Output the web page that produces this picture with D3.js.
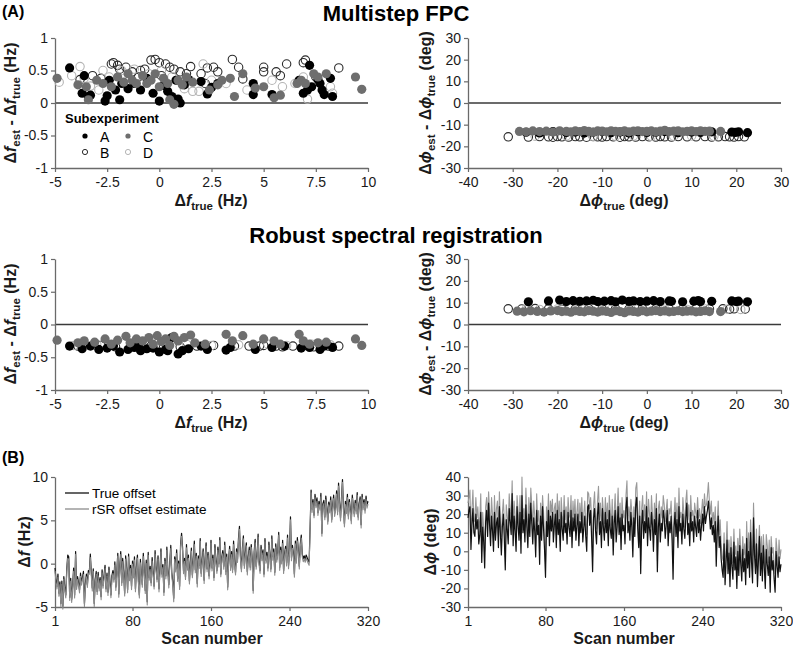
<!DOCTYPE html>
<html><head><meta charset="utf-8">
<script src="https://cdn.jsdelivr.net/npm/d3@7"></script>
<style>body{margin:0;background:#fff}svg{display:block;font-family:"Liberation Sans",Arial,Helvetica,sans-serif}</style>
</head><body><svg id="c" width="793" height="647"></svg>
<script>
// ---------- DATA ----------
const groups = ["A","B","C","D"];
const freqTicks = [-5,-2.5,0,2.5,5,7.5,10];
const errFreqTicks = [-1,-0.5,0,0.5,1];
const phaseTicks = [-40,-30,-20,-10,0,10,20,30];
const errPhaseTicks = [-30,-20,-10,0,10,20,30];
const scanTicks = [1,80,160,240,320];
const dfTicks = [-5,0,5,10];
const dphiTicks = [-30,-20,-10,0,10,20,30,40];

// Multistep FPC, frequency error [true, est-true]
const fpcFreqA = [[-4.3,0.54],[-3.6,0.42],[-3.7,0.15],[-3.4,0.1],[-3.3,0.12],[-2.6,0.03],[-2.5,0.11],[-2.4,0.35],[-2.1,0.2],[-1.9,0.05],[-1.8,0.3],[-1.5,0.22],[-1.2,0.3],[-0.9,0.2],[-0.6,0.38],[-0.3,0.15],[0.0,0.03],[0.2,0.27],[0.4,0.18],[0.6,0.1],[0.8,0.35],[0.9,0.06],[1.0,0.0],[1.2,0.28],[1.4,0.36],[2.0,0.33],[2.3,0.14],[2.5,0.24],[2.8,0.3],[4.5,0.3],[4.5,0.13],[5.4,0.13],[6.7,0.35],[6.9,0.15],[7.1,0.2],[7.2,0.58],[7.3,0.25],[7.6,0.36],[7.7,0.3],[7.8,0.2],[7.9,0.13],[8.2,0.38],[8.3,0.1]];
const fpcFreqB = [[-3.8,0.36],[-3.2,0.42],[-2.8,0.38],[-2.3,0.6],[-2.2,0.62],[-2.0,0.58],[-1.9,0.52],[-1.6,0.55],[-1.3,0.48],[-0.9,0.5],[-0.7,0.52],[-0.4,0.66],[-0.2,0.67],[0.0,0.62],[0.3,0.6],[0.5,0.55],[0.7,0.52],[1.0,0.48],[1.3,0.45],[1.5,0.56],[2.0,0.45],[2.3,0.54],[2.6,0.55],[2.8,0.48],[3.5,0.67],[3.8,0.55],[4.0,0.37],[5.0,0.55],[5.0,0.48],[5.6,0.48],[5.8,0.42],[6.1,0.6],[6.9,0.62],[7.0,0.66],[7.5,0.4],[8.6,0.54],[2.2,0.3],[0.1,0.42],[-1.0,0.4]];
const fpcFreqC = [[-4.9,0.38],[-3.9,0.28],[-3.5,0.25],[-3.4,0.05],[-3.0,0.35],[-2.7,0.3],[-2.3,0.25],[-2.0,0.4],[-1.7,0.32],[-1.5,0.45],[-1.3,0.35],[-1.1,0.3],[-0.8,0.42],[-0.6,0.3],[-0.4,0.35],[-0.2,0.45],[0.0,0.25],[0.2,0.38],[0.4,0.3],[0.5,0.05],[0.7,-0.02],[0.9,0.35],[1.1,0.28],[1.3,0.4],[1.6,0.32],[2.4,0.2],[2.8,0.28],[3.0,0.35],[3.4,0.38],[3.6,0.1],[4.0,0.45],[4.6,0.23],[5.0,0.25],[5.5,0.08],[5.8,0.12],[6.6,0.3],[6.8,0.35],[7.0,0.3],[7.4,0.45],[7.6,0.4],[8.0,0.45],[9.4,0.4],[9.7,0.21]];
const fpcFreqD = [[-4.8,0.32],[-4.2,0.42],[-3.8,0.56],[-3.6,0.38],[-3.3,0.26],[-2.9,0.2],[-2.4,0.4],[-1.8,0.5],[-1.2,0.52],[-0.5,0.45],[0.1,0.5],[0.6,0.4],[1.2,0.22],[1.9,0.18],[2.1,0.6],[2.5,0.35],[3.2,0.3],[4.2,0.2],[5.4,0.35],[5.9,0.25],[6.5,0.3],[6.9,0.4],[7.1,0.06],[8.2,0.25],[8.3,0.15],[-2.7,0.5],[-0.9,0.3],[1.6,0.18]];

// Multistep FPC, phase error
const fpcPhaseA = [[-27,-13.5],[-24,-13.8],[-21,-13.2],[-18,-13.6],[-16,-13.4],[-14,-13.9],[-12,-13.5],[-10,-13.2],[-8,-13.7],[-6,-13.4],[-4,-13.8],[-2,-13.3],[0,-13.6],[2,-13.5],[4,-13.2],[7,-13.7],[10,-13.4],[12,-13.6],[14.5,-13.3],[19,-13.4],[19.8,-13.6],[20.5,-13.3],[22.5,-13.7]];
const fpcPhaseB = [[-31,-15.6],[-26.5,-15.7],[-24,-15.5],[-22,-15.6],[-21,-15.8],[-20,-15.5],[-19,-15.6],[-17.5,-15.7],[-16,-15.5],[-15,-15.6],[-13.5,-15.8],[-12,-15.5],[-11,-15.6],[-10,-15.7],[-9,-15.5],[-7.5,-15.6],[-6,-15.8],[-5,-15.5],[-4,-15.6],[-2.5,-15.7],[-1,-15.5],[0.5,-15.6],[2,-15.7],[3,-15.5],[4,-15.6],[5.5,-15.7],[7,-15.5],[9,-15.6],[11,-15.6],[13,-15.5],[14.5,-15.7],[16,-15.6],[17.5,-15.5],[18.5,-15.6],[19.5,-15.7],[20.5,-15.5],[21.8,-15.6]];
const fpcPhaseC = [[-28.5,-13.1],[-27,-13.3],[-25.5,-12.9],[-24,-13.2],[-22.5,-13.0],[-21,-13.4],[-19.5,-12.8],[-18,-13.1],[-17,-13.3],[-16,-12.9],[-15,-13.2],[-14,-12.7],[-13,-13.1],[-12,-13.4],[-11,-12.9],[-10,-13.0],[-9,-13.3],[-8,-12.8],[-7,-13.1],[-6,-13.2],[-5,-12.9],[-4,-13.3],[-3,-13.0],[-2,-12.8],[-1,-13.2],[0,-13.1],[1,-12.9],[2,-13.3],[3,-13.0],[4,-12.6],[5,-13.2],[6,-13.0],[7,-12.9],[8,-13.3],[9,-13.1],[10,-12.9],[11,-13.2],[12,-12.8],[13,-13.1],[14,-13.0],[16.5,-13.1]];
const fpcPhaseD = [[-25,-15.3],[-18,-15.2],[-12,-15.4],[-7,-15.3],[-3,-15.2],[1,-15.4],[6,-15.3],[10,-15.2],[15,-15.4]];

// Robust spectral registration, frequency error
const rsrFreqA = [[-4.3,-0.33],[-3.7,-0.37],[-3.3,-0.33],[-2.9,-0.38],[-2.5,-0.36],[-2.2,-0.33],[-1.9,-0.42],[-1.5,-0.38],[-1.2,-0.35],[-0.9,-0.4],[-0.6,-0.37],[-0.3,-0.36],[0.0,-0.42],[0.3,-0.38],[0.6,-0.2],[0.9,-0.45],[1.1,-0.4],[1.4,-0.37],[2.0,-0.33],[2.3,-0.38],[3.2,-0.39],[3.4,-0.35],[4.6,-0.38],[5.4,-0.35],[6.0,-0.33],[6.8,-0.36],[7.2,-0.35],[7.7,-0.38],[7.9,-0.33],[8.3,-0.35],[-1.0,-0.33],[0.4,-0.4]];
const rsrFreqB = [[-3.9,-0.33],[-2.8,-0.32],[-2.1,-0.34],[-1.3,-0.33],[-0.4,-0.33],[0.2,-0.32],[1.0,-0.34],[1.8,-0.33],[2.6,-0.32],[3.6,-0.33],[4.3,-0.33],[5.0,-0.32],[5.6,-0.33],[5.9,-0.34],[6.4,-0.33],[7.0,-0.32],[7.4,-0.34],[8.1,-0.33],[8.6,-0.33],[4.8,-0.33]];
const rsrFreqC = [[-4.9,-0.24],[-3.9,-0.28],[-3.6,-0.25],[-3.1,-0.27],[-2.6,-0.22],[-2.3,-0.3],[-2.0,-0.24],[-1.6,-0.18],[-1.4,-0.28],[-1.1,-0.22],[-0.8,-0.25],[-0.5,-0.2],[-0.3,-0.3],[-0.1,-0.17],[0.1,-0.26],[0.3,-0.22],[0.5,-0.32],[0.7,-0.18],[0.9,-0.25],[1.2,-0.2],[1.5,-0.16],[1.7,-0.28],[2.2,-0.3],[3.2,-0.15],[3.5,-0.25],[4.0,-0.17],[4.5,-0.3],[5.0,-0.22],[5.5,-0.25],[5.8,-0.3],[6.7,-0.15],[6.9,-0.25],[7.2,-0.3],[7.6,-0.28],[8.0,-0.27],[9.4,-0.22],[9.7,-0.32]];
const rsrFreqD = [[-4.1,-0.32],[-3.0,-0.3],[-2.2,-0.31],[-1.0,-0.3],[0.1,-0.31],[1.3,-0.3],[2.5,-0.32],[3.8,-0.31],[5.2,-0.3],[6.1,-0.32],[7.3,-0.3],[8.2,-0.31]];

// Robust spectral registration, phase error
const rsrPhaseA = [[-26.5,10.4],[-22,10.8],[-19.5,11.2],[-18,10.5],[-16.5,10.9],[-15,10.6],[-13.5,10.8],[-12,11.1],[-11,10.5],[-9.5,10.7],[-8,10.9],[-7,10.4],[-5.5,11.2],[-4,10.6],[-3,10.8],[-1.5,10.5],[0,10.7],[1.5,10.9],[3,10.5],[5,10.8],[5.5,10.6],[8,10.4],[10.5,10.7],[11.5,11.0],[12,10.5],[14.5,10.6],[19,10.8],[20,10.5],[20.5,10.7],[22.5,10.4]];
const rsrPhaseB = [[-31,7.2],[-28,7.1],[-25,7.3],[-22,7.2],[-19,7.0],[-16,7.2],[-13,7.3],[-10,7.1],[-7,7.2],[-4,7.0],[-1,7.3],[2,7.2],[5,7.1],[8,7.2],[11,7.3],[14,7.1],[17,7.2],[18.5,7.0],[19.5,7.2],[22,7.1]];
const rsrPhaseC = [[-29,6.1],[-27.5,5.8],[-26,6.3],[-24.5,6.0],[-23,5.7],[-21.5,6.2],[-20,6.4],[-19,5.9],[-18,6.1],[-17,5.6],[-16,6.3],[-15,6.0],[-14,5.8],[-13,6.4],[-12,6.1],[-11,5.7],[-10,6.2],[-9,6.0],[-8,5.5],[-7,6.3],[-6,5.9],[-5,5.4],[-4,6.2],[-3,6.0],[-2,5.7],[-1,6.3],[0,5.8],[1,6.1],[2,6.4],[3,5.9],[4,6.2],[5,5.8],[6,6.0],[7,6.3],[8,5.9],[9,6.1],[10,6.2],[11,5.8],[12,6.0],[13,6.3],[14,5.9],[16.5,5.9]];
const rsrPhaseD = [[-27,7.0],[-24,6.9],[-20,7.1],[-14,7.0],[-8,6.9],[-2,7.1],[4,7.0],[9,6.9],[13,7.1],[18,7.0],[21,6.9]];

// (B) time series, scans 1..320
const trueFreq = [
-0.5,-1.8,-2.6,-1.2,-3.4,-2.1,-4.6,-2.0,-4.9,-1.5,-2.8,-3.6,-0.6,1.0,0.8,-3.9,-1.7,-4.1,-2.4,-0.5,
-3.6,1.4,-2.6,-1.5,-2.2,-3.0,-1.1,-2.1,-1.6,-0.9,-4.6,-2.3,-1.2,-2.4,-0.8,-0.9,1.1,-1.0,-2.8,-0.6,
-4.6,-1.8,-0.9,-3.2,-1.0,-2.8,-1.6,-3.8,-0.7,-2.5,-1.3,-0.2,-2.9,-1.1,-3.3,-0.4,-2.0,-3.6,-1.4,-0.8,
-1.8,0.2,-2.7,-0.9,1.2,-3.5,-0.3,1.4,-2.2,0.6,-1.0,-3.4,0.9,-0.6,-3.0,1.1,-1.6,-0.2,-2.6,0.3,
-1.3,0.8,-2.9,-0.4,1.0,-1.9,-3.6,0.5,-1.1,-2.4,1.2,-0.8,-3.1,0.4,-4.4,1.3,-1.6,-0.3,-2.2,0.7,
-0.9,-2.6,1.5,-0.3,-1.8,0.9,-2.9,-0.5,1.7,-1.2,-0.1,-3.3,0.6,-1.4,1.9,-0.7,-2.4,0.2,2.1,-1.0,
-2.1,-4.0,0.8,-0.6,1.6,-1.7,0.3,-2.6,2.3,3.5,1.9,-0.8,0.6,-1.5,2.2,-0.4,1.0,-2.0,0.2,1.8,
-1.3,0.5,2.6,-0.7,1.2,-2.3,0.9,-0.2,2.9,-1.1,0.4,1.7,-1.9,0.7,2.4,-0.6,1.3,-1.4,0.1,2.7,
-0.5,1.0,-1.6,2.2,0.4,-0.8,1.9,0.0,3.0,-1.2,0.8,1.5,-0.3,2.5,-0.9,1.1,-2.7,0.6,2.0,-0.4,
1.4,-0.7,2.6,0.2,-1.0,1.7,0.5,2.9,4.3,0.9,-0.6,1.8,3.2,-0.2,1.2,2.4,-0.9,0.8,1.9,-0.4,
2.2,0.5,-3.1,1.4,2.8,-0.3,1.0,3.4,0.2,-0.8,2.1,0.7,1.6,-1.2,2.9,0.4,1.3,-0.5,2.5,1.1,
-0.6,3.2,0.8,1.7,-1.0,2.3,0.5,1.4,3.6,-0.4,1.9,0.3,2.7,-0.8,1.2,2.0,0.1,3.3,-0.2,1.5,
5.4,0.7,2.1,1.2,-1.2,2.6,0.4,3.0,1.6,-0.3,2.3,3.3,1.1,0.6,0.9,0.5,1.0,0.7,0.4,0.2,
4.2,8.5,6.3,7.4,5.6,8.0,6.8,7.6,5.9,7.2,6.5,8.1,3.5,6.9,7.3,5.4,7.8,6.6,4.9,7.1,
6.2,7.7,5.1,6.8,7.9,5.8,6.5,8.4,6.0,9.3,7.0,5.3,7.6,9.7,6.4,4.6,7.2,6.1,8.0,5.5,
7.4,6.3,5.0,7.9,6.7,5.8,7.3,6.1,8.2,5.4,6.9,7.7,4.5,8.0,6.6,7.4,6.2,7.8,6.8,7.2];
// rSR estimate error (est - true) per scan, Hz
const rsrFreqErr = [
-.34,-.37,-.33,-.38,-.35,-.32,-.36,-.39,-.34,-.31,-.37,-.35,-.33,-.38,-.36,-.34,-.32,-.37,-.35,-.39,
-.36,-.33,-.38,-.34,-.31,-.37,-.35,-.39,-.33,-.36,-.34,-.38,-.32,-.35,-.37,-.33,-.39,-.34,-.36,-.32,
-.35,-.38,-.32,-.36,-.39,-.34,-.31,-.37,-.35,-.33,-.38,-.36,-.34,-.32,-.37,-.35,-.39,-.33,-.36,-.34,
-.33,-.36,-.39,-.35,-.32,-.38,-.34,-.36,-.31,-.37,-.35,-.33,-.38,-.34,-.36,-.32,-.37,-.35,-.39,-.33,
-.34,-.37,-.33,-.38,-.35,-.32,-.36,-.39,-.34,-.31,-.37,-.35,-.33,-.38,-.36,-.34,-.32,-.37,-.35,-.39,
-.36,-.33,-.38,-.34,-.31,-.37,-.35,-.39,-.33,-.36,-.34,-.38,-.32,-.35,-.37,-.33,-.39,-.34,-.36,-.32,
-.35,-.38,-.32,-.36,-.39,-.34,-.31,-.37,-.35,-.33,-.38,-.36,-.34,-.32,-.37,-.35,-.39,-.33,-.36,-.34,
-.33,-.36,-.39,-.35,-.32,-.38,-.34,-.36,-.31,-.37,-.35,-.33,-.38,-.34,-.36,-.32,-.37,-.35,-.39,-.33,
-.34,-.37,-.33,-.38,-.35,-.32,-.36,-.39,-.34,-.31,-.37,-.35,-.33,-.38,-.36,-.34,-.32,-.37,-.35,-.39,
-.36,-.33,-.38,-.34,-.31,-.37,-.35,-.39,-.33,-.36,-.34,-.38,-.32,-.35,-.37,-.33,-.39,-.34,-.36,-.32,
-.35,-.38,-.32,-.36,-.39,-.34,-.31,-.37,-.35,-.33,-.38,-.36,-.34,-.32,-.37,-.35,-.39,-.33,-.36,-.34,
-.33,-.36,-.39,-.35,-.32,-.38,-.34,-.36,-.31,-.37,-.35,-.33,-.38,-.34,-.36,-.32,-.37,-.35,-.39,-.33,
-.34,-.37,-.33,-.38,-.35,-.32,-.36,-.39,-.34,-.31,-.37,-.35,-.33,-.38,-.36,-.34,-.32,-.37,-.35,-.39,
-.36,-.33,-.38,-.34,-.31,-.37,-.35,-.39,-.33,-.36,-.34,-.38,-.32,-.35,-.37,-.33,-.39,-.34,-.36,-.32,
-.35,-.38,-.32,-.36,-.39,-.34,-.31,-.37,-.35,-.33,-.38,-.36,-.34,-.32,-.37,-.35,-.39,-.33,-.36,-.34,
-.33,-.36,-.39,-.35,-.32,-.38,-.34,-.36,-.31,-.37,-.35,-.33,-.38,-.34,-.36,-.32,-.37,-.35,-.39,-.33];
const truePhase = [
18,22,24,1,14,23,10,8,20,12,17,4,9,21,-6,13,5,-9,16,22,
8,26,14,3,19,11,0,21,6,15,18,2,24,10,-2,13,20,7,-10,17,
12,4,23,16,9,31,3,19,11,0,24,14,6,21,-1,30,10,17,5,25,
13,2,20,8,26,15,4,18,11,-3,22,9,14,-7,19,6,24,12,1,-14,
16,8,22,3,19,11,21,5,14,20,2,22,9,17,0,21,12,6,22,10,
15,4,21,13,8,22,2,18,11,20,6,14,20,3,16,10,21,5,13,19,
8,0,24,25,14,22,7,-11,18,23,11,4,20,26,9,16,2,23,13,6,
21,10,17,3,22,12,7,19,-2,15,22,5,13,24,9,18,1,20,11,14,
4,23,29,10,16,6,21,13,-3,18,8,25,29,12,2,19,-12,14,22,7,
16,10,24,3,18,12,6,21,14,0,17,9,23,-11,13,20,5,15,11,22,
18,7,14,22,3,16,10,19,6,-15,13,21,8,17,2,24,11,15,4,20,
12,7,18,26,9,15,3,21,11,16,5,19,13,8,22,10,17,6,14,20,
11,24,15,19,22,27,20,12,18,9,14,5,16,-8,10,19,2,8,-4,-10,
-14,4,-18,-6,6,-12,-1,-19,2,-8,-15,5,-10,-3,-20,0,-13,3,-7,-16,
1,-11,-4,-18,7,-9,0,-14,10,-6,-17,18,-2,-12,4,-19,-5,8,-13,-1,
-16,3,-9,-20,1,-7,-13,-3,-22,2,-10,-5,-15,-22,0,-8,-14,-3,-11,-7];
// rSR estimate error (est - true) per scan, deg
const rsrPhaseErr = [
8,7,9,6,8,10,7,8,9,6,7,9,8,10,6,8,7,9,8,7,
9,6,8,7,10,8,7,9,6,8,9,7,8,6,10,7,8,9,7,8,
7,9,8,6,9,7,10,8,7,9,6,8,7,9,8,10,7,6,8,9,
8,6,9,7,8,10,7,9,8,6,9,7,8,10,7,8,6,9,7,8,
8,7,9,6,8,10,7,8,9,6,7,9,8,10,6,8,7,9,8,7,
9,6,8,7,10,8,7,9,6,8,9,7,8,6,10,7,8,9,7,8,
7,9,8,6,9,7,10,8,7,9,6,8,7,9,8,10,7,6,8,9,
8,6,9,7,8,10,7,9,8,6,9,7,8,10,7,8,6,9,7,8,
8,7,9,6,8,10,7,8,9,6,7,9,8,10,6,8,7,9,8,7,
9,6,8,7,10,8,7,9,6,8,9,7,8,6,10,7,8,9,7,8,
7,9,8,6,9,7,10,8,7,9,6,8,7,9,8,10,7,6,8,9,
8,6,9,7,8,10,7,9,8,6,9,7,8,10,7,8,6,9,7,8,
8,7,9,6,8,10,7,8,9,6,7,9,8,10,6,8,7,9,8,7,
9,6,8,7,10,8,7,9,6,8,9,7,8,6,10,7,8,9,7,8,
7,9,8,6,9,7,10,8,7,9,6,8,7,9,8,10,7,6,8,9,
8,6,9,7,8,10,7,9,8,6,9,7,8,10,7,8,6,9,7,8];

// ---------- DRAWING ----------
const FONT = '"Liberation Sans",Arial,Helvetica,sans-serif';
const svg = d3.select("#c");
const L = [55, 368], R = [468, 781];
const ROW1 = [38, 168], ROW2 = [259, 390], ROW3 = [477, 607];

function panel(o) {
  const x = d3.scaleLinear().domain(o.xd).range(o.xr);
  const y = d3.scaleLinear().domain(o.yd).range([o.yr[1], o.yr[0]]);
  const g = svg.append("g");
  if (o.zero) g.append("line").attr("x1", o.xr[0]).attr("x2", o.xr[1])
      .attr("y1", y(0)).attr("y2", y(0)).attr("stroke", "#3a3a3a").attr("stroke-width", 1.3);
  const ax = g.append("g").attr("transform", `translate(0,${o.yr[1]})`)
    .call(d3.axisBottom(x).tickValues(o.xt).tickFormat(d => String(d)).tickSize(4).tickSizeOuter(0).tickPadding(5));
  const ay = g.append("g").attr("transform", `translate(${o.xr[0]},0)`)
    .call(d3.axisLeft(y).tickValues(o.yt).tickFormat(d => String(d)).tickSize(4).tickSizeOuter(0).tickPadding(3));
  [ax, ay].forEach(a => {
    a.select(".domain").attr("stroke", "#6a6a6a").attr("stroke-width", 1.3);
    a.selectAll(".tick line").attr("stroke", "#6a6a6a").attr("stroke-width", 1.2);
    a.selectAll("text").attr("font-size", 14).attr("fill", "#1a1a1a").attr("font-family", FONT);
  });
  return {x, y, g};
}

// rich label: parts [{t, i(italic), s(subscript)}]
function label(parts, x, y, rotate, size) {
  const t = svg.append("text").attr("font-family", FONT).attr("font-weight", "bold")
    .attr("font-size", size || 15).attr("fill", "#1a1a1a").attr("text-anchor", "middle")
    .attr("transform", rotate ? `translate(${x},${y}) rotate(-90)` : `translate(${x},${y})`);
  let sub = false;
  parts.forEach(p => {
    const s = t.append("tspan").text(p.t);
    if (p.i) s.attr("font-style", "italic");
    if (p.s) { s.attr("font-size", (size || 15) * 0.72); if (!sub) s.attr("dy", 4); sub = true; }
    else if (sub) { s.attr("dy", -4); sub = false; }
  });
}

const styles = {
  A: {fill: "#000", stroke: "none", r: 4.6},
  B: {fill: "none", stroke: "#2a2a2a", r: 4.2},
  C: {fill: "#6e6e6e", stroke: "none", r: 4.6},
  D: {fill: "none", stroke: "#b5b5b5", r: 4.2}
};
function dots(p, data, k) {
  const s = styles[k];
  p.g.append("g").selectAll("circle").data(data).join("circle")
    .attr("cx", d => p.x(d[0])).attr("cy", d => p.y(d[1])).attr("r", s.r)
    .attr("fill", s.fill).attr("stroke", s.stroke).attr("stroke-width", 1.1);
}

// Row 1
const p1 = panel({xr: L, yr: ROW1, xd: [-5, 10], yd: [-1, 1], xt: freqTicks, yt: errFreqTicks, zero: true});
dots(p1, fpcFreqB, "B"); dots(p1, fpcFreqD, "D"); dots(p1, fpcFreqA, "A"); dots(p1, fpcFreqC, "C");
const p2 = panel({xr: R, yr: ROW1, xd: [-40, 30], yd: [-30, 30], xt: phaseTicks, yt: errPhaseTicks, zero: true});
dots(p2, fpcPhaseB, "B"); dots(p2, fpcPhaseD, "D"); dots(p2, fpcPhaseA, "A"); dots(p2, fpcPhaseC, "C");
// Row 2
const p3 = panel({xr: L, yr: ROW2, xd: [-5, 10], yd: [-1, 1], xt: freqTicks, yt: errFreqTicks, zero: true});
dots(p3, rsrFreqB, "B"); dots(p3, rsrFreqD, "D"); dots(p3, rsrFreqA, "A"); dots(p3, rsrFreqC, "C");
const p4 = panel({xr: R, yr: ROW2, xd: [-40, 30], yd: [-30, 30], xt: phaseTicks, yt: errPhaseTicks, zero: true});
dots(p4, rsrPhaseB, "B"); dots(p4, rsrPhaseD, "D"); dots(p4, rsrPhaseA, "A"); dots(p4, rsrPhaseC, "C");
// Row 3
const p5 = panel({xr: L, yr: ROW3, xd: [1, 320], yd: [-5, 10], xt: scanTicks, yt: dfTicks});
const p6 = panel({xr: R, yr: ROW3, xd: [1, 320], yd: [-30, 40], xt: scanTicks, yt: dphiTicks});
function series(p, vals, color, w) {
  p.g.append("path").datum(vals).attr("fill", "none").attr("stroke", color).attr("stroke-width", w)
    .attr("stroke-linejoin", "round")
    .attr("d", d3.line().x((d, i) => p.x(i + 1)).y(d => p.y(d)));
}
series(p5, trueFreq, "#111", 1.2);
series(p5, trueFreq.map((v, i) => v + rsrFreqErr[i]), "#8c8c8c", 1.1);
series(p6, truePhase.map((v, i) => v + rsrPhaseErr[i]), "#999", 1.1);
series(p6, truePhase, "#111", 1.2);

// Titles
svg.append("text").attr("x", 2).attr("y", 17).attr("font-family", FONT).attr("font-weight", "bold").attr("font-size", 16).text("(A)");
svg.append("text").attr("x", 2).attr("y", 463).attr("font-family", FONT).attr("font-weight", "bold").attr("font-size", 16).text("(B)");
svg.append("text").attr("x", 396).attr("y", 21).attr("text-anchor", "middle").attr("font-family", FONT).attr("font-weight", "bold").attr("font-size", 22).text("Multistep FPC");
svg.append("text").attr("x", 396).attr("y", 243).attr("text-anchor", "middle").attr("font-family", FONT).attr("font-weight", "bold").attr("font-size", 22).text("Robust spectral registration");

// Axis labels
const dfErr = [{t:"Δ"},{t:"f",i:1},{t:"est",s:1},{t:" - Δ"},{t:"f",i:1},{t:"true",s:1},{t:" (Hz)"}];
const dpErr = [{t:"Δ"},{t:"ϕ",i:1},{t:"est",s:1},{t:" - Δ"},{t:"ϕ",i:1},{t:"true",s:1},{t:" (deg)"}];
const dfTrue = [{t:"Δ"},{t:"f",i:1},{t:"true",s:1},{t:" (Hz)"}];
const dpTrue = [{t:"Δ"},{t:"ϕ",i:1},{t:"true",s:1},{t:" (deg)"}];
label(dfErr, 16, 103, true, 16); label(dpErr, 431, 103, true, 16);
label(dfErr, 16, 324, true, 16); label(dpErr, 431, 324, true, 16);
label(dfTrue, 211, 206, false, 16); label(dpTrue, 624, 206, false, 16);
label(dfTrue, 211, 428, false, 16); label(dpTrue, 624, 428, false, 16);
label([{t:"Δ"},{t:"f",i:1},{t:" (Hz)"}], 30, 542, true, 16);
label([{t:"Δ"},{t:"ϕ",i:1},{t:" (deg)"}], 436, 542, true, 16);
label([{t:"Scan number"}], 212, 644, false, 16); label([{t:"Scan number"}], 624, 644, false, 16);

// Legend (A)
svg.append("text").attr("x", 65).attr("y", 123).attr("font-family", FONT).attr("font-weight", "bold").attr("font-size", 13).text("Subexperiment");
const legPos = {A: [85, 136], B: [85, 152], C: [128, 136], D: [128, 152]};
groups.forEach(k => {
  const [lx, ly] = legPos[k], s = styles[k];
  svg.append("circle").attr("cx", lx).attr("cy", ly).attr("r", 2.6)
    .attr("fill", s.fill).attr("stroke", s.stroke).attr("stroke-width", 1);
  svg.append("text").attr("x", lx + 15).attr("y", ly + 5.5).attr("font-family", FONT).attr("font-size", 14).text(k);
});
// Legend (B)
[["True offset", "#111", 493], ["rSR offset estimate", "#8c8c8c", 509]].forEach(([t, c, ly]) => {
  svg.append("line").attr("x1", 65).attr("x2", 89).attr("y1", ly).attr("y2", ly).attr("stroke", c).attr("stroke-width", 1.3);
  svg.append("text").attr("x", 92).attr("y", ly + 5).attr("font-family", FONT).attr("font-size", 13.5).text(t);
});
</script></body></html>
